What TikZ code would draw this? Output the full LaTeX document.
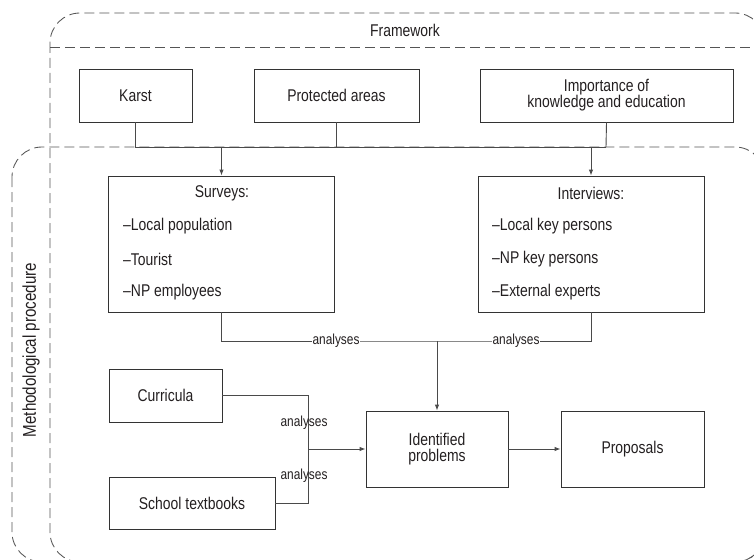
\documentclass[tikz,border=0pt]{standalone}
\usepackage{fontspec}
\setmainfont{Liberation Sans}[FakeStretch=0.82]
\usetikzlibrary{arrows.meta}
\definecolor{boxc}{HTML}{333333}
\definecolor{linec}{HTML}{4A4A4A}
\definecolor{dashc}{HTML}{555555}
\definecolor{txtc}{HTML}{231F20}
\tikzset{
  boxnode/.style={draw=boxc, line width=0.9pt, inner sep=0pt, align=center,
    font=\fontsize{17}{19}\selectfont, text=txtc},
  txt/.style={inner sep=0pt, font=\fontsize{17}{19}\selectfont, text=txtc},
  lbl/.style={inner sep=1pt, font=\fontsize{14.5}{16}\selectfont, text=txtc},
  conn/.style={draw=linec, line width=0.9pt},
  arr/.style={conn, -{Latex[length=6pt,width=4.5pt]}},
  frame/.style={draw=dashc, line width=0.85pt, dash pattern=on 10pt off 5pt, rounded corners=30pt}
}
\begin{document}
\begin{tikzpicture}[x=1pt,y=-1pt]
\useasboundingbox (0,0) rectangle (754,559);
\clip (0,0) rectangle (754,559);
% frames
\draw[frame] (50,13) rectangle (765,562);
\draw[frame] (12,147) rectangle (765,562);
\draw[draw=dashc, line width=0.85pt, dash pattern=on 10pt off 5pt] (50,47) -- (765,47);
\node[txt] (fw) at (405,30) {Framework};
\node[txt, rotate=90, font=\fontsize{18.5}{20}\selectfont] (mp) at (31,350) {Methodological procedure};
% top boxes
\node[boxnode, minimum width=113pt, minimum height=53pt] (karst) at (135.5,95.5) {Karst};
\node[boxnode, minimum width=165pt, minimum height=53pt] (prot) at (336.5,95.5) {Protected areas};
\node[boxnode, minimum width=253pt, minimum height=53pt] (imp) at (606.5,95.5) {Importance of\\[-3pt]knowledge and education};
% surveys / interviews
\node[boxnode, minimum width=226pt, minimum height=136pt] (sv) at (221.5,244) {};
\node[txt] (svt) at (222,193) {Surveys:};
\node[txt, anchor=west] (sv1) at (123,226) {–Local population};
\node[txt, anchor=west] (sv2) at (123,259) {–Tourist};
\node[txt, anchor=west] (sv3) at (123,292) {–NP employees};
\node[boxnode, minimum width=226pt, minimum height=136pt] (iv) at (591,244) {};
\node[txt] (ivt) at (591,193) {Interviews:};
\node[txt, anchor=west] (iv1) at (492,226) {–Local key persons};
\node[txt, anchor=west] (iv2) at (492,259) {–NP key persons};
\node[txt, anchor=west] (iv3) at (492,292) {–External experts};
% bottom boxes
\node[boxnode, minimum width=142pt, minimum height=76pt] (ip) at (437,449) {Identified\\[-3pt]problems};
\node[boxnode, minimum width=143pt, minimum height=76pt] (pr) at (632.5,449) {Proposals};
\node[boxnode, minimum width=113pt, minimum height=53pt] (cur) at (165.5,395.5) {Curricula};
\node[boxnode, minimum width=166pt, minimum height=52pt] (sch) at (192,503) {School textbooks};
% coordinates
\coordinate (busR) at (606,147);
\coordinate (ja) at (437,341);
\coordinate (jb) at (308,449);
% top connectors
\draw[conn] (karst.south) |- (busR);
\draw[conn] (prot.south) -- (prot.south |- busR);
\draw[conn] (imp.south) -- (busR);
\draw[arr] (sv.north |- busR) -- (sv.north);
\draw[arr] (iv.north |- busR) -- (iv.north);
% analyses from surveys / interviews
\draw[conn] (sv.south) |- (ja) -| (iv.south);
\node[lbl, fill=white] (la1) at (336,341) {analyses};
\node[lbl, fill=white] (la2) at (516,341) {analyses};
\draw[arr] (ja) -- (ip.north);
% curricula / textbooks
\draw[conn] (cur.east) -| (jb);
\draw[conn] (sch.east) -| (jb);
\draw[arr] (jb) -- (ip.west);
\node[lbl] (lb1) at (304,423) {analyses};
\node[lbl] (lb2) at (304,476) {analyses};
\draw[arr] (ip.east) -- (pr.west);
\end{tikzpicture}
\end{document}
